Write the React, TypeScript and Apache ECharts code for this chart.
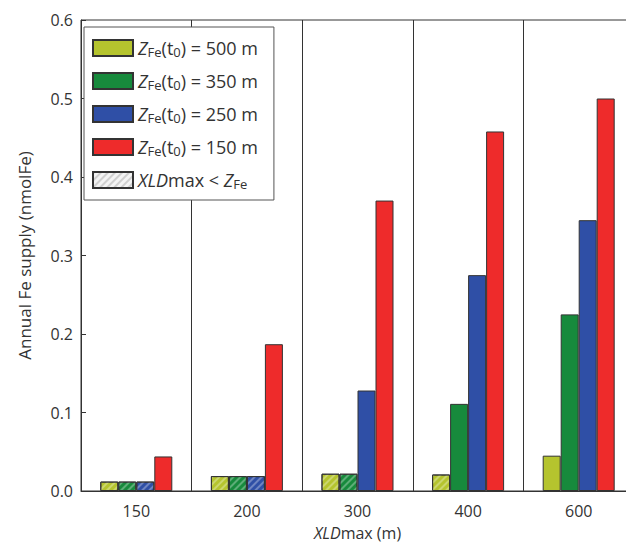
import React, { useEffect, useRef } from 'react';
import * as echarts from 'echarts';

const categories = ['150', '200', '300', '400', '600'];
const seriesNames = ['500', '350', '250', '150'];
const colors = ['#b5c42e', '#178a3c', '#2f4fa6', '#ee2b2b'];
const values = [
    [0.012, 0.019, 0.022, 0.021, 0.045],
    [0.012, 0.019, 0.022, 0.111, 0.225],
    [0.012, 0.019, 0.128, 0.275, 0.345],
    [0.044, 0.187, 0.370, 0.458, 0.500],
];
// hatched where XLDmax < Z_Fe
const hatched = [
    [true, true, true, true, false],
    [true, true, true, false, false],
    [true, true, false, false, false],
    [false, false, false, false, false],
];

const decal = {
    symbol: 'rect',
    dashArrayX: [1, 0],
    dashArrayY: [2, 3],
    rotation: -Math.PI / 4,
    color: 'rgba(255,255,255,0.3)',
};

const App: React.FC = () => {
    const chartRef = useRef<HTMLDivElement>(null);

    useEffect(() => {
        if (!chartRef.current) return;
        const chart = echarts.init(chartRef.current, null, { renderer: 'svg' });
        const font = 'Open Sans';
        const rich = {
            z: { fontStyle: 'italic', fontSize: 18, fontFamily: font },
            sub: { fontSize: 13, verticalAlign: 'bottom', padding: [7, 0, 0, 0], fontFamily: font },
            t: { fontSize: 18, fontFamily: font },
        };
        const series: any[] = seriesNames.map((n, i) => ({
            name: `Z${n}`,
            type: 'bar',
            barWidth: 18,
            barGap: '0%',
            itemStyle: { color: colors[i], borderColor: '#333', borderWidth: 1 },
            data: values[i].map((v, j) => ({
                value: v,
                itemStyle: hatched[i][j] ? { decal } : undefined,
            })),
        }));
        series.push({
            name: 'hatch',
            type: 'bar',
            data: [],
            itemStyle: { color: '#f4f4f4', borderColor: '#333', borderWidth: 1, decal: { ...decal, color: 'rgba(0,0,0,0.15)' } },
        });
        chart.setOption({
            animation: false,
            aria: { decal: { show: false } },
            grid: { left: 72, right: 0, top: 12, bottom: 56, show: true, borderColor: '#333', borderWidth: 1 },
            legend: {
                orient: 'vertical',
                left: 76,
                top: 19,
                icon: 'rect',
                itemWidth: 40,
                itemHeight: 16,
                itemGap: 14,
                padding: [12, 16, 10, 8],
                borderColor: '#555',
                borderWidth: 1,
                backgroundColor: '#fff',
                data: [...seriesNames.map((n) => `Z${n}`), 'hatch'],
                formatter: (name: string) =>
                    name === 'hatch'
                        ? '{z|XLD}{t|max < }{z|Z}{sub|Fe}'
                        : `{z|Z}{sub|Fe}{t|(t}{sub|0}{t|) = ${name.slice(1)} m}`,
                textStyle: { color: '#333', rich },
            },
            xAxis: {
                type: 'category',
                data: categories,
                name: '{z|XLD}{t|max (m)}',
                nameLocation: 'middle',
                nameGap: 34,
                nameTextStyle: { color: '#333', rich: { ...rich, z: { ...rich.z, fontSize: 16 }, t: { ...rich.t, fontSize: 16 } } },
                axisLine: { lineStyle: { color: '#333' } },
                axisTick: { show: false },
                axisLabel: { color: '#333', fontSize: 16, fontFamily: font, margin: 12 },
                splitLine: { show: true, lineStyle: { color: '#333', width: 1 } },
            },
            yAxis: {
                type: 'value',
                min: 0,
                max: 0.6,
                interval: 0.1,
                name: 'Annual Fe supply (nmolFe)',
                nameLocation: 'middle',
                nameGap: 48,
                nameTextStyle: { color: '#333', fontSize: 17, fontFamily: font },
                axisLine: { show: true, lineStyle: { color: '#333' } },
                axisTick: { show: true, inside: true, length: 5, lineStyle: { color: '#333' } },
                axisLabel: { color: '#333', fontSize: 16, fontFamily: font, formatter: (v: number) => v.toFixed(1) },
                splitLine: { show: false },
            },
            series,
        });
        return () => chart.dispose();
    }, []);

    return <div ref={chartRef} style={{ width: '626px', height: '539px' }} />;
};

export default App;
